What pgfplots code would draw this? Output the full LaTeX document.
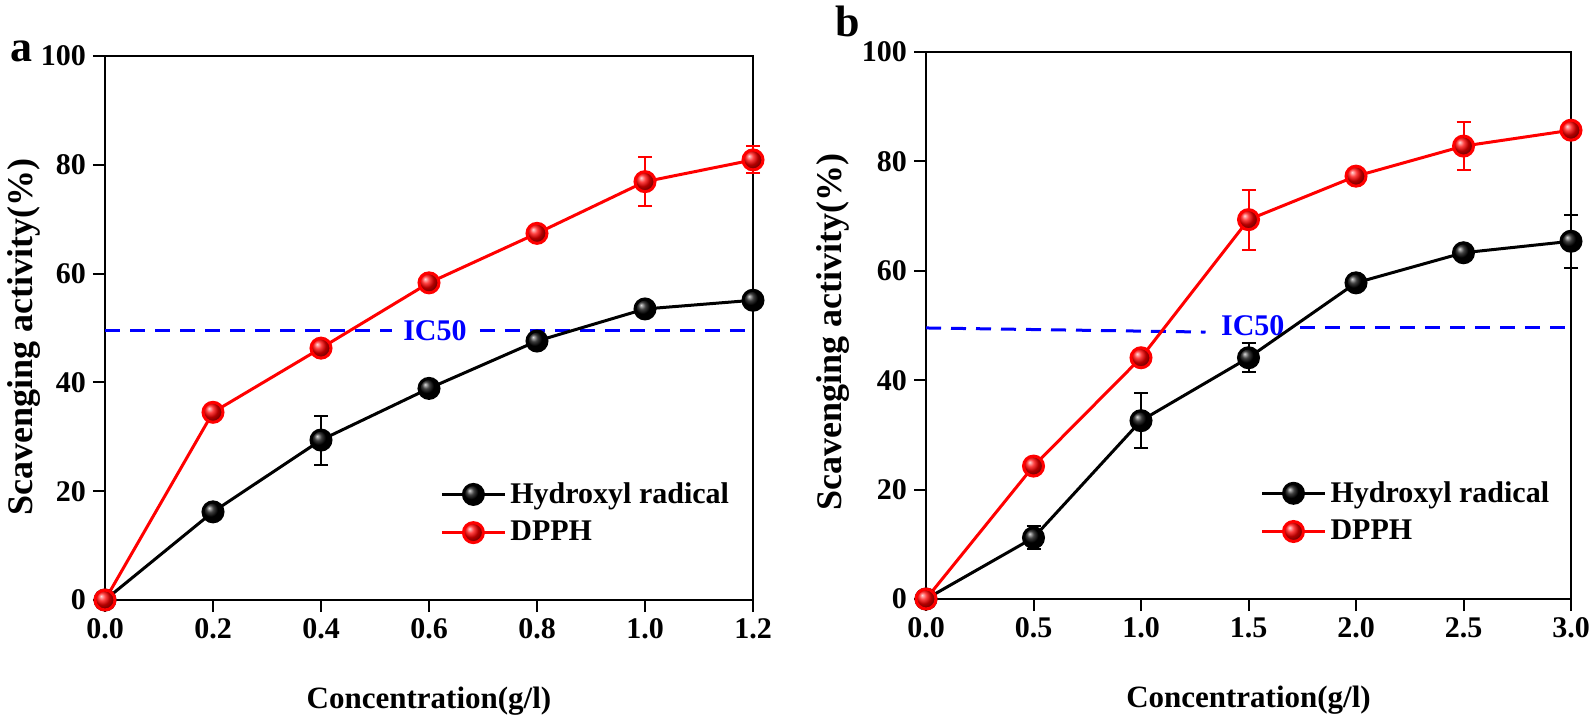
\documentclass[border=0pt]{standalone}
\usepackage{pgfplots}
\pgfplotsset{compat=1.18}
\usepackage{pgfplotstable}
\usepackage{fontspec}
\setmainfont{Liberation Serif}

\pgfplotstableread{
x y e
0 0 0
0.2 16.2 0.5
0.4 29.4 4.5
0.6 38.9 0.5
0.8 47.6 0.5
1.0 53.5 0.5
1.2 55.1 0.5
}\lefthyd
\pgfplotstableread{
x y e
0 0 0
0.2 34.5 0.5
0.4 46.3 0.5
0.6 58.3 0.5
0.8 67.4 0.5
1.0 76.9 4.5
1.2 80.9 2.5
}\leftdpph
\pgfplotstableread{
x y e
0 0 0
0.5 11.2 2.1
1.0 32.6 5.0
1.5 44.1 2.65
2.0 57.8 0.5
2.5 63.3 0.5
3.0 65.4 4.8
}\righthyd
\pgfplotstableread{
x y e
0 0 0
0.5 24.3 0.5
1.0 44.1 0.5
1.5 69.35 5.5
2.0 77.3 0.5
2.5 82.8 4.4
3.0 85.7 0.5
}\rightdpph

\pgfplotsset{
  panel/.style={
    scale only axis,
    anchor=south west,
    clip=false,
    ymin=0, ymax=100,
    ytick={0,20,40,60,80,100},
    axis line style={line width=1bp},
    tick style={line width=1bp, black},
    tick align=outside,
    major tick length=6bp,
    xtick pos=bottom, ytick pos=left,
    font=\fontsize{15bp}{18bp}\selectfont\bfseries,
    /pgf/number format/assume math mode=true,
    ticklabel style={font=\fontsize{15bp}{18bp}\selectfont\bfseries},
    xticklabel style={/pgf/number format/.cd, fixed, fixed zerofill, precision=1},
    xlabel={Concentration(g/l)},
    ylabel={Scavenging activity(\%)},
    xlabel style={at={(axis description cs:0.5,0)}, anchor=base, yshift=-54bp,
      font=\fontsize{15.5bp}{18bp}\selectfont\bfseries},
    ylabel style={font=\fontsize{18bp}{21bp}\selectfont\bfseries},
    legend style={draw=none, fill=none, inner sep=0pt, row sep=3.5bp,
      font=\fontsize{15bp}{18bp}\selectfont\bfseries, anchor=north west,
      cells={anchor=west}},
    legend image code/.code={\draw[mark repeat=2,mark phase=2,#1] plot coordinates {(0bp,0bp)(15.75bp,0bp)(31.5bp,0bp)};},
  },
  hyd/.style={color=black, line width=1.5bp, mark=ball, mark size=5bp,
    mark options={ball color=black},
    error bars/.cd, y dir=both, y explicit,
    error bar style={line width=1bp, black},
    error mark options={rotate=90, mark size=3.5bp, line width=1bp, black}},
  dpph/.style={color=red, line width=1.5bp, mark=ball, mark size=5bp,
    mark options={ball color=red},
    error bars/.cd, y dir=both, y explicit,
    error bar style={line width=1bp, red},
    error mark options={rotate=90, mark size=3.5bp, line width=1bp, red}},
  ic/.style={blue, line width=1.5bp, dash pattern=on 7.5bp off 5bp, forget plot},
}

\begin{document}
\begin{tikzpicture}
\path[use as bounding box] (0,0) rectangle (795bp,360bp);

\begin{axis}[panel,
  at={(52.5bp,60bp)}, width=324bp, height=272bp,
  xmin=0, xmax=1.2, xtick={0,0.2,0.4,0.6,0.8,1.0,1.2},
  ylabel style={at={(axis description cs:-0.125,0.483)}, anchor=center},
  legend style={at={(axis description cs:0.517,0.224)}},
]
\addplot[ic] coordinates {(0,49.6) (0.531,49.6)};
\addplot[ic] coordinates {(0.694,49.6) (1.185,49.6)};
\node[text=blue, font=\fontsize{15bp}{18bp}\selectfont\bfseries] at (axis cs:0.611,49.6) {IC50};
\addplot[hyd] table[x=x, y=y, y error=e] {\lefthyd};
\addlegendentry{Hydroxyl radical}
\addplot[dpph] table[x=x, y=y, y error=e] {\leftdpph};
\addlegendentry{DPPH}
\end{axis}

\begin{axis}[panel,
  at={(463bp,60.5bp)}, width=322.5bp, height=273.5bp,
  xmin=0, xmax=3, xtick={0,0.5,1.0,1.5,2.0,2.5,3.0},
  ylabel style={at={(axis description cs:-0.144,0.488)}, anchor=center},
  legend style={at={(axis description cs:0.518,0.223)}},
]
\addplot[ic] coordinates {(0,49.55) (1.30,48.8)};
\addplot[ic] coordinates {(1.74,49.55) (3.0,49.55)};
\node[text=blue, font=\fontsize{15bp}{18bp}\selectfont\bfseries] at (axis cs:1.52,50.0) {IC50};
\addplot[hyd] table[x=x, y=y, y error=e] {\righthyd};
\addlegendentry{Hydroxyl radical}
\addplot[dpph] table[x=x, y=y, y error=e] {\rightdpph};
\addlegendentry{DPPH}
\end{axis}

\node[anchor=base west, font=\fontsize{22bp}{26bp}\selectfont\bfseries, inner sep=0pt] at (5bp,329bp) {a};
\node[anchor=base west, font=\fontsize{22bp}{26bp}\selectfont\bfseries, inner sep=0pt] at (417.5bp,341.5bp) {b};
\end{tikzpicture}
\end{document}
